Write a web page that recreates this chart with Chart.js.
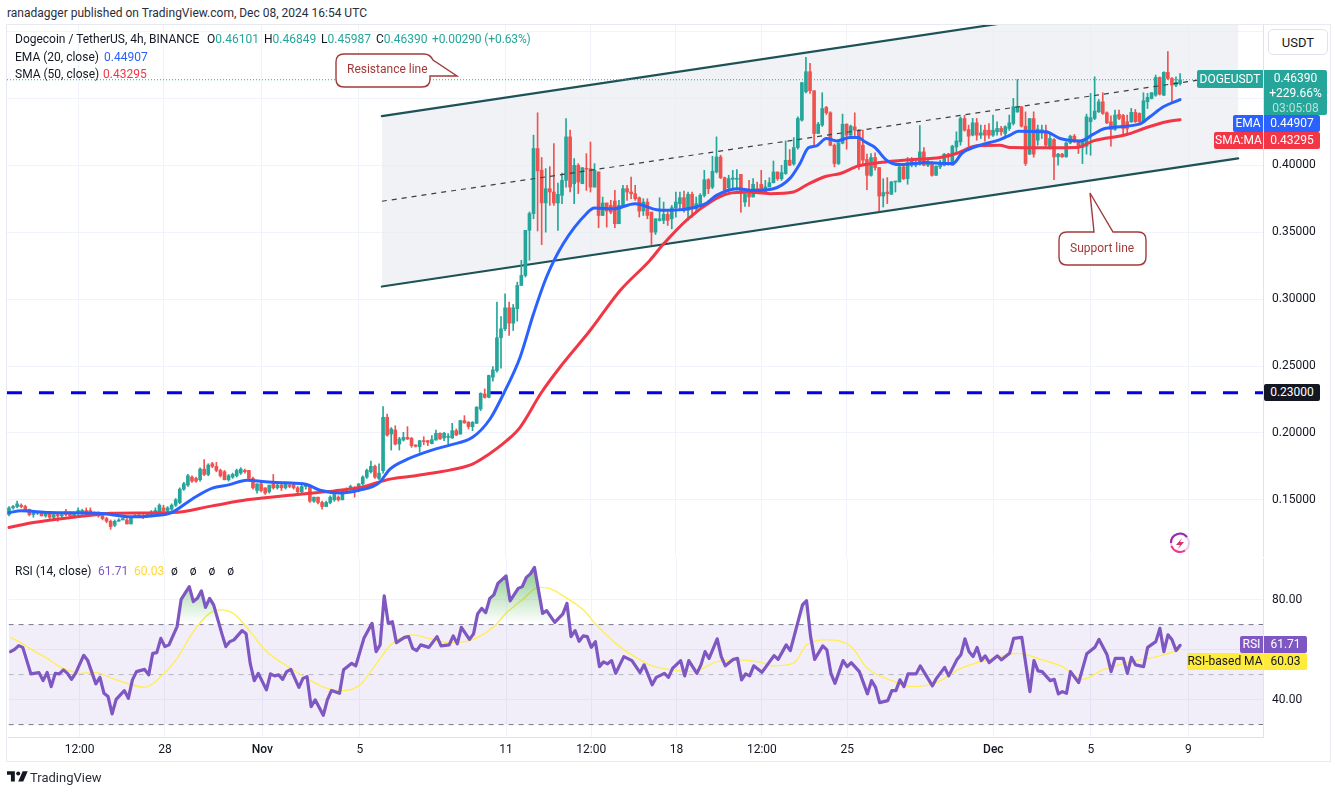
<!DOCTYPE html>
<html><head><meta charset="utf-8">
<script src="https://cdn.jsdelivr.net/npm/chart.js@4"></script>
<style>
html,body{margin:0;padding:0;background:#fff;width:1335px;height:792px;overflow:hidden;font-family:Roboto,sans-serif;color:#131722}
canvas{position:absolute;display:block}
#frame{position:absolute;left:6px;top:24px;width:1325px;height:738px;border:1px solid #e8eaf1;box-sizing:border-box;pointer-events:none}
.t{position:absolute;white-space:nowrap;font-size:12px;line-height:14px}
.box{position:absolute;color:#fff;font-size:12px;text-align:center;white-space:nowrap;box-sizing:border-box}
svg{position:absolute;left:0;top:0}
</style></head><body>
<canvas id="main" width="1323" height="532" style="left:7px;top:25px;width:1323px;height:532px"></canvas>
<canvas id="rsi" width="1323" height="205" style="left:7px;top:557px;width:1323px;height:205px"></canvas>
<div id="frame"></div>

<div class="t" style="left:7px;top:6px;color:#2a2e39">ranadagger published on TradingView.com, Dec 08, 2024 16:54 UTC</div>
<div class="t" style="left:15px;top:32px">Dogecoin / TetherUS, 4h, BINANCE</div>
<div class="t" style="left:207px;top:32px">O<span style="color:#26a69a">0.46101</span></div>
<div class="t" style="left:264px;top:32px">H<span style="color:#26a69a">0.46849</span></div>
<div class="t" style="left:321px;top:32px">L<span style="color:#26a69a">0.45987</span></div>
<div class="t" style="left:376px;top:32px">C<span style="color:#26a69a">0.46390</span></div>
<div class="t" style="left:432px;top:32px;color:#26a69a;letter-spacing:-.01em">+0.00290 (+0.63%)</div>
<div class="t" style="left:15px;top:50px">EMA (20, close)</div>
<div class="t" style="left:104px;top:50px;color:#2962ff">0.44907</div>
<div class="t" style="left:15px;top:67px">SMA (50, close)</div>
<div class="t" style="left:103px;top:67px;color:#f23645">0.43295</div>
<div class="t" style="left:15px;top:564px">RSI (14, close)</div>
<div class="t" style="left:98px;top:564px;color:#7e57c2">61.71</div>
<div class="t" style="left:134px;top:564px;color:#fdd835">60.03</div>
<div class="t" style="left:171px;top:564px;word-spacing:9px">ø ø ø ø</div>

<div class="box" style="left:1268px;top:29px;width:60px;height:26px;line-height:26px;color:#131722;background:#fff;border:1px solid #e0e3eb;border-radius:5px;font-size:13px">USDT</div>
<div class="box" style="left:1197px;top:70px;width:66px;height:18px;line-height:18px;background:#26a69a;border-radius:2px 0 0 2px">DOGEUSDT</div>
<div class="box" style="left:1264px;top:70px;width:63px;height:45px;line-height:15px;padding-top:1px;background:#26a69a;border-radius:0 2px 2px 0">0.46390<br>+229.66%<br><span style="color:#b8e0dc">03:05:08</span></div>
<div class="box" style="left:1233px;top:115px;width:30px;height:17px;line-height:17px;background:#2962ff;border-radius:2px 0 0 2px">EMA</div>
<div class="box" style="left:1264px;top:115px;width:56px;height:17px;line-height:17px;background:#2962ff;border-radius:0 2px 2px 0">0.44907</div>
<div class="box" style="left:1214px;top:132px;width:49px;height:17px;line-height:17px;background:#f23645;border-radius:2px 0 0 2px">SMA:MA</div>
<div class="box" style="left:1264px;top:132px;width:56px;height:17px;line-height:17px;background:#f23645;border-radius:0 2px 2px 0">0.43295</div>
<div class="box" style="left:1264px;top:384px;width:56px;height:17px;line-height:17px;background:#131722;border-radius:2px">0.23000</div>
<div class="box" style="left:1240px;top:636px;width:23px;height:17px;line-height:17px;background:#7e57c2;border-radius:2px 0 0 2px">RSI</div>
<div class="box" style="left:1264px;top:636px;width:43px;height:17px;line-height:17px;background:#7e57c2;border-radius:0 2px 2px 0">61.71</div>
<div class="box" style="left:1187px;top:653px;width:76px;height:17px;line-height:17px;background:#ffeb3b;color:#131722;border-radius:2px 0 0 2px">RSI-based MA</div>
<div class="box" style="left:1264px;top:653px;width:43px;height:17px;line-height:17px;background:#ffeb3b;color:#131722;border-radius:0 2px 2px 0">60.03</div>

<svg width="1335" height="792" viewBox="0 0 1335 792">
<path d="M344 54H424Q430 54 433 60L457 76H430V79Q430 87 422 87H344Q336 87 336 79V62Q336 54 344 54Z" fill="#fff" stroke="#a33a3a" stroke-width="1.4"/>
<path d="M1067 232H1094L1090 193L1113 232H1138Q1146 232 1146 240V257Q1146 265 1138 265H1067Q1059 265 1059 257V240Q1059 232 1067 232Z" fill="#fff" stroke="#a33a3a" stroke-width="1.4"/>
<circle cx="1180" cy="543" r="9" fill="none" stroke="#e5c9ef" stroke-width="2"/>
<path d="M1171 543A9 9 0 0 1 1187 537" fill="none" stroke="#9c27b0" stroke-width="2"/>
<path d="M1171.5 546A9 9 0 0 0 1185 550.5" fill="none" stroke="#f23685" stroke-width="2"/>
<path d="M1182 538L1176 545H1180L1178 549L1184 542H1180Z" fill="#d5306f"/>
<g transform="translate(7,768) scale(0.56)" fill="#131722"><path d="M14 6H0v6h7v12h7V6Z"/><circle cx="20" cy="10" r="3.6"/><path d="M28 6h9l-8 18h-9Z"/></g>
</svg>
<div class="t" style="left:347px;top:62px;color:#a33a3a">Resistance line</div>
<div class="t" style="left:1070px;top:241px;color:#a33a3a">Support line</div>
<div class="t" style="left:30px;top:771px;font-size:13px;color:#2a2e39">TradingView</div>

<script>
const opens=[.139,.144,.145,.146,.145,.143,.139,.140,.140,.138,
.140,.137,.139,.138,.141,.140,.138,.140,.140,.142,
.142,.139,.140,.138,.136,.134,.131,.134,.135,.135,
.132,.137,.138,.138,.138,.138,.140,.141,.144,.142,
.143,.146,.148,.158,.161,.167,.166,.165,.173,.169,
.177,.175,.172,.171,.165,.167,.168,.170,.172,.172,
.166,.157,.162,.159,.156,.162,.159,.161,.159,.161,
.162,.159,.156,.160,.160,.149,.152,.148,.145,.148,
.150,.152,.150,.156,.158,.159,.157,.162,.167,.171,
.175,.166,
.1718,.2117,.1992,.2022,.1917,.1947,.1967,.1960,.1910,.1897,
.1942,.1942,.1920,.1947,.1997,.1962,.1967,.1962,.2017,.1992,
.2092,.2080,.2047,.2072,.2179,.2291,.2266,.2416,.2466,.2711,
.2778,.2935,.2820,.2928,.3102,.3177,.3514,.3639,.4125,.3963,
.3719,.3825,.3800,.3718,.3775,.3887,.4212,.3862,.3999,.3862,
.3975,.3975,.3837,.3950,.3625,.3718,.3700,.3733,.3563,.3700,
.3825,.3800,.3787,.3758,.3658,.3725,.3650,.3500,.3588,.3588,
.3633,.3600,.3683,.3713,.3758,.3663,.3783,.3675,.3700,.3775,
.3892,.3837,.3950,.4062,.3907,.3832,.3895,.3895,.3932,.3725,
.3788,.3763,.3825,.3858,.3800,.3838,.3870,.3950,.3900,.3938,
.4038,.4010,.4132,.4337,.4549,.4699,.4557,.4237,.4300,.4432,
.4392,.4150,.4013,.4165,.4307,.4225,.4287,.4262,.4150,.4043,
.3925,.4058,.3983,.3770,.3800,.3783,.3875,.3875,.3988,.3900,
.4000,.4000,.4008,.4100,.4000,.4018,.3925,.3988,.4000,.4083,
.4000,.4137,.4175,.4349,.4267,.4225,.4317,.4225,.4262,.4262,
.4225,.4250,.4275,.4237,.4275,.4312,.4399,.4437,.4292,.4083,
.4349,.4187,.4255,.4255,.4137,.4192,.4063,.4083,.4063,.4167,
.4217,.4175,.4132,.4142,.4325,.4350,.4399,.4474,.4392,.4325,
.4267,.4380,.4372,.4325,.4325,.4395,.4387,.4325,.4474,.4499,
.4524,.4656,.4524,.4694,.4649,.4599,.4610];
const closes=[.144,.145,.147,.145,.142,.139,.140,.141,.138,.140,
.137,.139,.138,.139,.139,.138,.140,.142,.142,.139,
.139,.140,.138,.136,.134,.130,.134,.135,.136,.132,
.137,.138,.1385,.137,.139,.141,.142,.146,.142,.144,
.146,.150,.158,.162,.168,.164,.164,.173,.169,.176,
.175,.172,.168,.165,.168,.169,.172,.173,.171,.166,
.159,.162,.157,.155,.161,.159,.161,.159,.163,.160,
.159,.156,.160,.161,.149,.152,.148,.145,.148,.152,
.154,.150,.157,.158,.160,.157,.162,.167,.172,.175,
.167,.170,
.2117,.1984,.2030,.1917,.1955,.1967,.1955,.1905,.1900,.1942,
.1935,.1930,.1950,.1997,.1955,.1997,.1975,.2017,.1984,.2092,
.2075,.2047,.2080,.2192,.2296,.2266,.2429,.2471,.2711,.2778,
.2935,.2820,.2935,.3102,.3177,.3514,.3639,.4125,.3958,.3719,
.3825,.3800,.3718,.3783,.3887,.4212,.3837,.3999,.3875,.3982,
.3970,.3837,.3962,.3625,.3718,.3658,.3650,.3563,.3700,.3825,
.3800,.3787,.3750,.3658,.3725,.3625,.3500,.3600,.3600,.3633,
.3588,.3683,.3725,.3758,.3663,.3783,.3675,.3713,.3775,.3892,
.3825,.3955,.4062,.3907,.3813,.3900,.3905,.3900,.3788,.3788,
.3763,.3858,.3813,.3800,.3838,.3870,.3950,.3900,.3945,.4037,
.4000,.4132,.4350,.4617,.4699,.4557,.4237,.4307,.4424,.4392,
.4150,.4013,.4167,.4307,.4225,.4292,.4262,.4000,.4038,.3925,
.4058,.3983,.3770,.3796,.3788,.3875,.3880,.3988,.3900,.4018,
.4043,.4018,.4100,.4000,.4018,.3925,.3993,.4018,.4083,.4063,
.4142,.4182,.4349,.4262,.4217,.4317,.4225,.4242,.4225,.4225,
.4262,.4275,.4250,.4287,.4317,.4437,.4437,.4292,.4013,.4349,
.4083,.4270,.4265,.4150,.4200,.4063,.4083,.4063,.4167,.4217,
.4175,.4137,.4187,.4362,.4355,.4405,.4474,.4387,.4317,.4267,
.4375,.4350,.4275,.4275,.4395,.4325,.4325,.4482,.4507,.4542,
.4656,.4532,.4694,.4649,.4599,.4619,.4639];
const highs=[.145,.146,.149,.147,.146,.143,.141,.141,.141,.141,
.141,.140,.140,.140,.143,.141,.141,.144,.143,.144,
.144,.141,.141,.139,.137,.135,.135,.136,.136,.136,
.137,.139,.139,.139,.140,.142,.144,.147,.146,.145,
.147,.151,.159,.163,.169,.168,.167,.174,.180,.177,
.178,.178,.173,.172,.169,.170,.173,.174,.173,.172,
.167,.162,.163,.159,.161,.169,.162,.162,.163,.163,
.163,.160,.161,.162,.161,.152,.152,.149,.149,.153,
.155,.153,.158,.159,.161,.160,.162,.168,.173,.179,
.176,.177,
.2197,.2141,.2040,.2054,.1967,.2005,.2047,.1967,.1912,.1945,
.1972,.1945,.1980,.2022,.2000,.2005,.1995,.2072,.2030,.2095,
.2129,.2085,.2085,.2197,.2300,.2329,.2432,.2496,.2977,.2870,
.3040,.2977,.2960,.3127,.3290,.3514,.3651,.4225,.4392,.4058,
.3975,.3990,.4162,.3867,.3942,.4349,.4262,.4050,.4012,.3982,
.4087,.4174,.4012,.3950,.3762,.3718,.3738,.3812,.3738,.3850,
.3850,.3912,.3850,.3763,.3750,.3750,.3650,.3600,.3758,.3725,
.3650,.3700,.3800,.3800,.3808,.3800,.3800,.3763,.3788,.3962,
.3900,.4067,.4212,.4075,.3912,.3925,.3962,.3967,.3932,.3788,
.3887,.3900,.3875,.3962,.3887,.3907,.4032,.3950,.4000,.4182,
.4117,.4207,.4362,.4620,.4806,.4761,.4557,.4320,.4542,.4440,
.4400,.4160,.4187,.4382,.4310,.4300,.4392,.4267,.4262,.4083,
.4088,.4093,.3983,.3900,.3908,.3880,.3880,.3993,.4013,.4058,
.4058,.4050,.4297,.4132,.4058,.4025,.3995,.4038,.4088,.4090,
.4150,.4250,.4362,.4372,.4300,.4350,.4350,.4300,.4300,.4312,
.4375,.4325,.4290,.4295,.4375,.4500,.4641,.4440,.4399,.4349,
.4399,.4300,.4300,.4300,.4240,.4200,.4090,.4090,.4175,.4225,
.4230,.4180,.4190,.4382,.4537,.4661,.4492,.4542,.4400,.4370,
.4412,.4412,.4380,.4375,.4425,.4417,.4392,.4542,.4537,.4542,
.4674,.4660,.4699,.4849,.4655,.4661,.4685];
const lows=[.138,.143,.144,.144,.142,.138,.137,.139,.138,.137,
.136,.136,.134,.137,.138,.137,.138,.139,.139,.138,
.138,.138,.137,.135,.133,.128,.130,.134,.135,.132,
.132,.137,.137,.136,.137,.138,.139,.141,.141,.141,
.142,.145,.147,.157,.160,.163,.163,.164,.168,.168,
.174,.171,.167,.165,.164,.166,.167,.169,.170,.165,
.158,.155,.156,.154,.155,.158,.158,.157,.158,.159,
.158,.155,.155,.158,.148,.148,.147,.143,.145,.147,
.149,.149,.150,.155,.157,.152,.156,.161,.166,.170,
.166,.165,
.1700,.1975,.1872,.1910,.1872,.1940,.1950,.1892,.1895,.1855,
.1912,.1905,.1918,.1945,.1952,.1942,.1917,.1960,.1980,.1990,
.2072,.2030,.2017,.2070,.2167,.2260,.2262,.2386,.2454,.2484,
.2765,.2728,.2765,.2835,.3102,.3165,.3290,.3601,.3509,.3407,
.3500,.3700,.3700,.3513,.3713,.3837,.3800,.3713,.3788,.3862,
.3812,.3800,.3837,.3533,.3625,.3538,.3638,.3533,.3563,.3700,
.3738,.3750,.3738,.3613,.3625,.3600,.3408,.3483,.3583,.3563,
.3550,.3525,.3613,.3675,.3650,.3588,.3613,.3650,.3688,.3763,
.3788,.3825,.3942,.3900,.3775,.3788,.3813,.3813,.3650,.3693,
.3693,.3763,.3800,.3800,.3800,.3838,.3867,.3887,.3887,.3932,
.3999,.4000,.4120,.4330,.4540,.4537,.4150,.4237,.4290,.4380,
.4145,.3988,.4005,.4160,.4120,.4220,.4212,.3968,.4000,.3818,
.3918,.3963,.3658,.3688,.3713,.3783,.3800,.3875,.3893,.3858,
.3988,.3988,.4000,.3995,.3990,.3918,.3925,.3975,.3995,.4000,
.4000,.4100,.4150,.4255,.4142,.4220,.4187,.4200,.4180,.4200,
.4215,.4225,.4225,.4220,.4260,.4300,.4395,.4285,.3998,.4080,
.4060,.4150,.4200,.4140,.4120,.3893,.4000,.4058,.4060,.4160,
.4170,.4088,.4013,.4083,.4075,.4340,.4395,.4380,.4310,.4142,
.4260,.4340,.4225,.4237,.4320,.4320,.4320,.4320,.4424,.4495,
.4515,.4525,.4520,.4640,.4474,.4587,.4599];

const emaX=[0,3,10,22,30,35,40,45,50,54,58.5,63,68,73,76.5,81.4,86,91,93.7,98,104,108.4,114,118.3,121.6,125.7,129,132.2,136.3,142,144,148.6,154,159.3,162.6,168.3,171.6,174,179,183,188,192,194.5,196.6,198.6,201,203.5,206.8,208.9,210.5,213,215.8,219,222.4,225.7,229.8,232.2,234.3,238,243.7,246.2,248.2,255,258.5,263.4,266.7,269.5,278,280.6,283.9,288];
const emaY=[.1405,.1418,.1405,.1400,.1373,.1380,.1405,.1505,.1587,.1612,.1647,.1635,.1627,.1617,.1572,.1552,.1572,.1627,.173,.1804,.1872,.1909,.1967,.2104,.2291,.2566,.2890,.3165,.3413,.3638,.3680,.3675,.3713,.3668,.3663,.3683,.3718,.3775,.3825,.3812,.3825,.39,.4012,.4130,.4145,.42,.4182,.4207,.4207,.4175,.4132,.4038,.4005,.4013,.402,.4013,.4013,.4088,.4142,.4192,.4225,.4255,.425,.42,.4182,.4232,.4275,.4307,.4362,.4437,.44907];
const smaX=[0,6,22.4,25,40.4,50,58.5,71.6,80,87,93.7,100,105,108.4,114,117.5,122.4,125.7,130.9,135.5,142.9,150.3,157.6,161,167,173.2,176.9,181.4,187.2,192.9,196.6,201,204.4,208.9,214.2,222.4,229,233,238,243.7,246.2,255.2,262.6,266.7,274.9,279.8,284.7,288];
const smaY=[.1293,.133,.1393,.1400,.1405,.1455,.15,.1542,.1567,.1597,.1655,.1680,.1705,.1722,.1767,.183,.1942,.2042,.23,.2491,.2765,.3064,.3289,.3413,.3600,.3738,.3788,.38,.3788,.38,.3860,.3918,.3938,.3995,.402,.4043,.4058,.4088,.4145,.415,.4132,.413,.4132,.4182,.4230,.4282,.4325,.4340];

const rsiX=[0,1,2,3,5,7,8,9,10,11,12,13,14,15,16,18,19,21,22,23,24,25,26,28,29,30,31,33,34,35,36,37,38,39,41,42,44,45,46,47,48,49,50,52,53,54,55,57,58,59,60,61,63,64,65,66,67,68,69,71,72,73,74,75,77,78,79,81,82,84,85,87,89,90,91,92,93,94,95,97,98,99,100,101,103,105,106,108,109,110,111,113,114,115,116,117,118,119,120,122,123,125,126,127,128,129,131,132,134,136,137,138,139,140,141,142,143,144,145,146,147,148,149,151,153,155,156,158,159,161,162,163,165,166,167,169,170,171,172,174,175,176,178,179,180,181,182,183,185,188,189,191,192,195,196,197,198,200,201,202,203,205,206,207,209,211,212,213,214,216,217,218,219,220,221,223,224,227,228,230,231,233,234,235,236,237,238,239,240,241,243,244,246,247,249,251,252,253,254,256,257,258,259,260,261,263,265,267,268,270,271,272,274,275,276,277,279,280,282,283,284,285,286,287,288];
const rsiY=[59.2,60.1,61.6,60.9,50.3,50.8,47.6,50.9,45.2,50.5,50.3,51.9,50.5,48.1,50.5,57.7,55.6,46.3,48.9,42.5,41.2,34.3,40.1,43.6,40.5,47.9,51.2,52.1,49.9,58.5,58.8,64.5,61.2,61.9,69.2,80.1,85.2,79.2,80.5,83.5,76.9,80.5,77.9,66.5,61.2,63.2,63.9,67.6,66.3,54.5,47.6,50.5,43.9,50.3,49.5,49.9,48.1,51.2,52.1,44.9,48.5,49.2,37.2,39.9,33.7,39.9,43.6,42.5,51.9,54.5,53.5,64.5,70.5,59.2,61.9,81.5,70.5,71.2,62.8,64.9,65.2,60.5,59.6,61.9,60.9,65.2,61.5,61.9,65.5,62.3,68.9,64.1,66.3,74.3,76.5,74.8,80.5,81.9,86.5,89.5,79.5,84.5,85.2,88.9,90.3,92.9,74.5,75.6,70.9,74.3,78.5,65.2,67.6,63.3,65.5,65.2,60.9,63.2,53.2,55.1,54.3,55.6,50.5,57.2,55.6,50.8,53.9,45.9,48.9,50.5,48.9,52.5,55.6,49.5,55.6,50.5,53.9,59.2,56.5,64.3,57.2,53.5,56.1,56.5,47.9,50.3,49.5,53.5,50.9,57.6,56.1,61.9,59.6,77.9,79.6,65.2,56.1,61.5,59.9,50.5,46.5,55.6,53.2,54.8,51.2,42.3,47.6,44.9,38.8,39.6,43.6,43.6,47.9,45.2,50.3,50.3,53.5,45.5,48.5,52.9,49.5,55.9,57.9,64.3,59.2,57.2,60.9,55.6,57.5,54.8,57.5,55.9,58.5,64.5,64.9,43.2,55.6,51.5,51.2,47.6,48.1,42.3,43.2,42.5,51.2,46.8,58.3,60.9,64.1,57.9,51.2,56.5,56.5,50.5,56.9,53.9,53.2,60.9,63.2,68.5,59.2,65.9,63.9,59.6,61.71];
const rsiMaX=[0,3,6,9,12,14,17,21,25,29,33,37,41,45,49,52,55,59,63,66,69,73,77,82,86,89,94,99,103,108,113,119,122,126,130,133,137,141,145,150,155,158,162,168,174,179,184,188,193,196,201,207,211,217,222,228,234,242,248,254,259,264,269,276,283,288];
const rsiMaY=[64.9,62.3,59.2,56.5,53.2,51.9,50.5,50.8,48.5,46.3,44.9,49.2,56.5,67.2,74.5,75.9,74.3,67.2,59.2,55.6,52.5,48.5,45,43.6,45.9,51.9,62.5,65.9,64.5,62.8,63.6,69.2,74.5,79.9,84.9,84.3,80.5,75.9,68.5,61.2,55.9,53.5,52.1,51.2,55.2,55.9,55.2,53.5,54.8,61.9,63.9,61.2,52.5,47.6,45.2,46.8,52.5,56.5,58.5,55.9,53.2,48.1,51.9,55.2,57.5,60.03];

const dateTicks=[17,38,62,86,122,143,164,185,206,242,266,290];
const dateLabels=['12:00','28','Nov','5','11','12:00','18','12:00','25','Dec','5','9'];
const priceTicks=[.15,.20,.25,.30,.35,.40,.45,.50];
const priceLabels=['0.15000','0.20000','0.25000','0.30000','0.35000','0.40000','',''];
const rsiTicks=[40,60,80];
const rsiLabels=['40.00','','80.00'];
const supportX=[91.7,302.3], supportY=[.3094,.4052];
const resistX=[91.7,302.3], resistY=[.4367,.5325];
const middleX=[91.7,302.3], middleY=[.3731,.4681];
const level=.23, lastPrice=.4639;
const xMin=-.49, xMax=308.4;

const UP='#26a69a', DOWN='#ef5350', FONT='Roboto, sans-serif', GRID='#f0f3fa', AXIS='#e0e3eb';
const pts=(xs,ys)=>xs.map((x,i)=>({x,y:ys[i]}));
const idx=opens.map((_,i)=>i);
const hLine=(v)=>[{x:xMin,y:v},{x:xMax,y:v}];
const line=(data,color,width,extra)=>Object.assign({type:'line',data,borderColor:color,borderWidth:width,pointRadius:0,tension:0,fill:false,borderJoinStyle:'round',borderCapStyle:'round'},extra||{});

function xScale(show){return {type:'linear',bounds:'data',min:xMin,max:xMax,offset:false,
  afterBuildTicks:s=>{s.ticks=dateTicks.map(v=>({value:v}));},
  afterFit:s=>{s.paddingLeft=0;s.paddingRight=0;if(!show)s.height=0;},
  grid:{color:GRID,drawTicks:false,offset:false},border:{color:AXIS},
  ticks:{display:show,autoSkip:false,maxRotation:0,padding:5,color:'#131722',
    font:c=>({family:FONT,size:12,weight:(dateLabels[c.index]==='Nov'||dateLabels[c.index]==='Dec')?'500':'400'}),
    callback:(v,i)=>dateLabels[i]}};}
function yScale(min,max,vals,labels){return {type:'linear',position:'right',bounds:'data',min,max,
  afterBuildTicks:s=>{s.ticks=vals.map(v=>({value:v}));},
  afterFit:s=>{s.width=67;s.paddingTop=0;s.paddingBottom=0;},
  grid:{color:GRID,drawTicks:false},border:{color:AXIS},
  ticks:{autoSkip:false,padding:9,color:'#131722',font:{family:FONT,size:12},callback:(v,i)=>labels[i]}};}
const base={responsive:false,animation:false,maintainAspectRatio:false,events:[],layout:{padding:0},plugins:{legend:{display:false},tooltip:{enabled:false}}};

new Chart(document.getElementById('main'),{type:'bar',data:{datasets:[
  line(pts(resistX,resistY),'#1d5257',2.2,{fill:'+1',backgroundColor:'rgba(232,235,240,.65)',order:11}),
  line(pts(supportX,supportY),'#1d5257',2.2,{order:10}),
  line(pts(middleX,middleY),'#3c4043',1.2,{borderDash:[5,5],borderCapStyle:'butt',order:2}),
  line(hLine(level),'#0000ee',3,{borderDash:[15,17],borderCapStyle:'butt',order:8}),
  line(hLine(lastPrice),UP,1,{borderDash:[1,2],borderCapStyle:'butt',order:7}),
  {type:'bar',grouped:false,barThickness:1,order:6,data:idx.map(i=>({x:i,y:[lows[i],highs[i]]})),backgroundColor:idx.map(i=>closes[i]>=opens[i]?UP:DOWN),borderWidth:0},
  {type:'bar',grouped:false,barThickness:3,minBarLength:1,order:5,data:idx.map(i=>({x:i,y:[opens[i],closes[i]]})),backgroundColor:idx.map(i=>closes[i]>=opens[i]?UP:DOWN),borderWidth:0},
  line(pts(smaX,smaY),'#f23645',3,{order:4,cubicInterpolationMode:'monotone'}),
  line(pts(emaX,emaY),'#2962ff',3,{order:3,cubicInterpolationMode:'monotone'})
]},options:Object.assign({},base,{scales:{x:xScale(false),y:yScale(.1073,.5048,priceTicks,priceLabels)}})});

const rsiChart=new Chart(document.getElementById('rsi'),{type:'line',data:{datasets:[
  line(hLine(70),'#787b86',1,{fill:{target:{value:30}},backgroundColor:'rgba(126,87,194,.1)',borderDash:[5,5],borderCapStyle:'butt',order:9}),
  line(hLine(50),'#b2b5be',1,{borderDash:[5,5],borderCapStyle:'butt',order:8}),
  line(hLine(30),'#787b86',1,{borderDash:[5,5],borderCapStyle:'butt',order:7}),
  line(pts(rsiMaX,rsiMaY),'#ffee58',1.4,{order:2,cubicInterpolationMode:'monotone'}),
  line(pts(rsiX,rsiY),'#7e57c2',3.2,{order:1,fill:{target:{value:70},above:'rgba(76,175,80,.4)',below:'rgba(0,0,0,0)'}})
]},options:Object.assign({},base,{scales:{x:xScale(true),y:yScale(24.8,96.4,rsiTicks,rsiLabels)}})});
const yS=rsiChart.scales.y, gc=rsiChart.ctx.createLinearGradient(0,yS.getPixelForValue(92),0,yS.getPixelForValue(70));
gc.addColorStop(0,'rgba(76,175,80,.65)');gc.addColorStop(1,'rgba(76,175,80,0)');
rsiChart.data.datasets[4].fill.above=gc;rsiChart.update('none');
</script>
</body></html>
